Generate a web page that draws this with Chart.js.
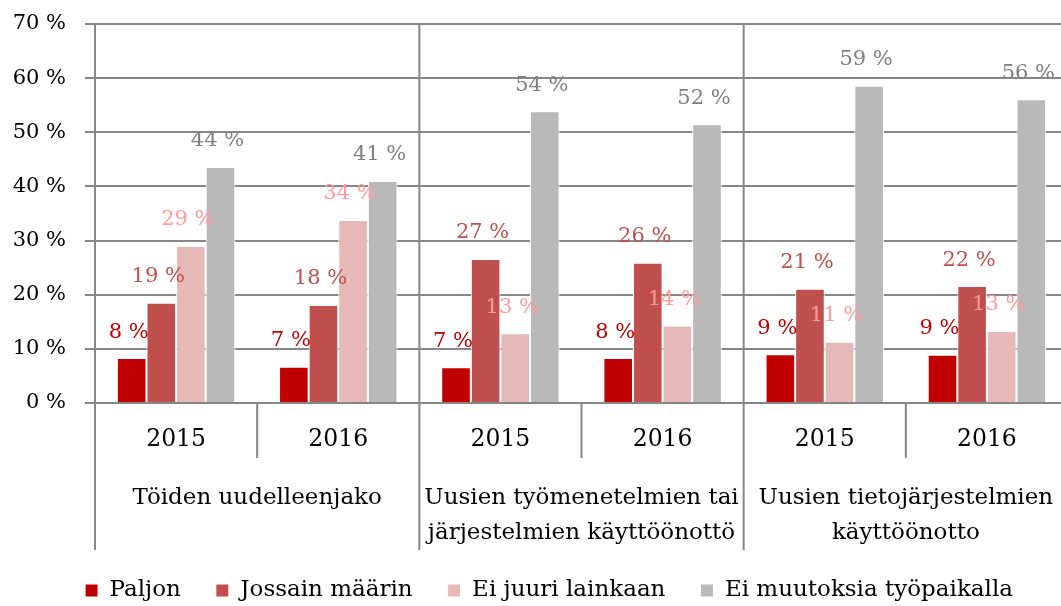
<!DOCTYPE html>
<html>
<head>
<meta charset="utf-8">
<script src="https://cdn.jsdelivr.net/npm/chart.js@4.4.1/dist/chart.umd.min.js"></script>
<style>
  html, body { margin: 0; padding: 0; background: #fff; overflow: hidden; }
  #wrap { position: relative; width: 1075px; height: 606px; }
</style>
</head>
<body>
<div id="wrap"><canvas id="chart"></canvas></div>
<script>
// years on the inner axis, topics on the outer axis
const years = ['2015', '2016', '2015', '2016', '2015', '2016'];
const topics = [
  ['Töiden uudelleenjako'],
  ['Uusien työmenetelmien tai', 'järjestelmien käyttöönottö'],
  ['Uusien tietojärjestelmien', 'käyttöönotto']
];
const seriesNames = ['Paljon', 'Jossain määrin', 'Ei juuri lainkaan', 'Ei muutoksia työpaikalla'];
const paljon      = [8.3, 6.7, 6.6, 8.3, 9.0, 8.9];
const jossain     = [18.5, 18.1, 26.6, 25.9, 21.1, 21.6];
const eiJuuri     = [29.0, 33.8, 12.9, 14.3, 11.3, 13.3];
const eiMuutoksia = [43.6, 41.0, 53.9, 51.5, 58.6, 56.1];
const yMax = 70;
const yStep = 10;

const FONT = "'DejaVu Serif', serif";
const barColors = ['#C00000', '#C0504D', '#E6B9B8', '#B9B9B9'];
const labelColors = ['#C00000', '#C0504D', '#FF9B9B', '#808080'];
const lineColor = '#878787';

// value labels above bars
const valueLabels = {
  id: 'valueLabels',
  afterDatasetsDraw(chart) {
    const ctx = chart.ctx;
    ctx.save();
    ctx.font = '21px ' + FONT;
    ctx.textAlign = 'center';
    ctx.textBaseline = 'middle';
    chart.data.datasets.forEach((ds, i) => {
      const meta = chart.getDatasetMeta(i);
      meta.data.forEach((bar, j) => {
        ctx.fillStyle = labelColors[i];
        ctx.fillText(Math.round(ds.data[j]) + ' %', bar.x - 3, bar.y - 26);
      });
    });
    ctx.restore();
  }
};

// two level x axis: years, topics and their separators
const groupAxis = {
  id: 'groupAxis',
  afterLayout(chart) {
    // legend sits a bit right of the canvas centre
    chart.legend.left += 15;
    chart.legend.right += 15;
  },
  afterDraw(chart) {
    const ctx = chart.ctx;
    const x = chart.scales.x;
    const area = chart.chartArea;
    const half = (x.getPixelForValue(1) - x.getPixelForValue(0)) / 2;
    const bottom = area.bottom + 147;
    ctx.save();
    ctx.strokeStyle = lineColor;
    ctx.lineWidth = 2;
    ctx.fillStyle = '#000';
    ctx.textAlign = 'center';
    ctx.textBaseline = 'middle';
    ctx.font = '23.5px ' + FONT;
    years.forEach((y, i) => {
      const cx = x.getPixelForValue(i);
      ctx.fillText(y, cx, area.bottom + 37);
      if (i % 2 === 1) {
        ctx.beginPath();
        ctx.moveTo(cx - half, area.bottom);
        ctx.lineTo(cx - half, area.bottom + 55);
        ctx.stroke();
      }
    });
    ctx.font = '23px ' + FONT;
    for (let g = 0; g <= topics.length; g++) {
      const bx = x.getPixelForValue(g * 2) - half;
      ctx.beginPath();
      ctx.moveTo(bx, area.top);
      ctx.lineTo(bx, bottom);
      ctx.stroke();
      if (g < topics.length) {
        const cx = bx + half * 2;
        topics[g].forEach((line, k) => {
          ctx.fillText(line, cx, area.bottom + 95 + k * 35);
        });
      }
    }
    ctx.restore();
  }
};

const ctx = document.getElementById('chart').getContext('2d');
new Chart(ctx, {
  type: 'bar',
  data: {
    labels: years,
    datasets: [paljon, jossain, eiJuuri, eiMuutoksia].map((d, i) => ({
      label: seriesNames[i],
      data: d,
      backgroundColor: barColors[i],
      borderColor: '#fff',
      borderWidth: 1,
      categoryPercentage: 0.73,
      barPercentage: 1
    }))
  },
  options: {
    responsive: true,
    maintainAspectRatio: false,
    animation: false,
    layout: { padding: { top: 24, right: 7, left: 0, bottom: -6 } },
    plugins: {
      legend: {
        position: 'bottom',
        labels: {
          boxWidth: 13,
          boxHeight: 13,
          padding: 35,
          color: '#000',
          font: { family: FONT, size: 23 }
        }
      },
      tooltip: { enabled: false }
    },
    scales: {
      x: {
        grid: { display: false },
        border: { display: false },
        ticks: { display: false },
        afterFit(scale) { scale.height = 141; }
      },
      y: {
        min: 0,
        max: yMax,
        ticks: {
          stepSize: yStep,
          padding: 19,
          color: '#000',
          font: { family: FONT, size: 21 },
          callback: v => v + ' %'
        },
        grid: { color: lineColor, lineWidth: 2, tickLength: 10 },
        border: { display: false },
        afterFit(scale) {
          scale.width = 95;
          scale.paddingTop = 0;
          scale.paddingBottom = 0;
        }
      }
    }
  },
  plugins: [valueLabels, groupAxis]
});
</script>
</body>
</html>
